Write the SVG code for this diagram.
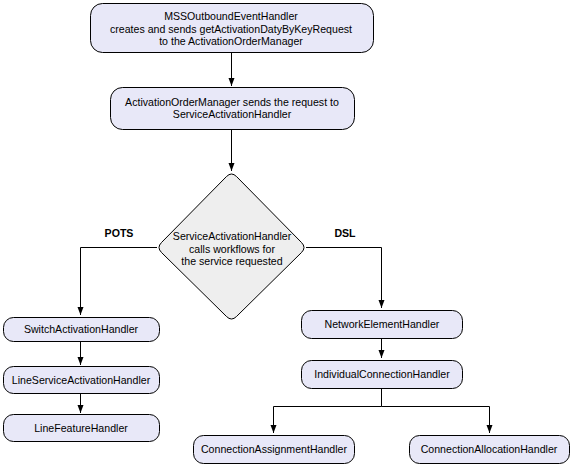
<svg xmlns="http://www.w3.org/2000/svg" width="573" height="466" viewBox="0 0 573 466">
<style>
.box{fill:#E8E8F8;stroke:#000;stroke-width:1}
.dia{fill:#EEEEEE;stroke:#000;stroke-width:1}
text{font-family:"Liberation Sans",Arial,sans-serif;font-size:10.6px;fill:#000;text-anchor:middle}
.lbl{font-weight:bold;font-size:10.6px}
.c{fill:none;stroke:#000;stroke-width:1;marker-end:url(#ah)}
.n{fill:none;stroke:#000;stroke-width:1}
</style>
<defs>
<marker id="ah" markerUnits="userSpaceOnUse" markerWidth="10" markerHeight="8" refX="9" refY="4" orient="auto" viewBox="0 0 10 8">
<path d="M1,1 L9,4 L1,7 Z" fill="#000"/>
</marker>
</defs>
<rect width="573" height="466" fill="#fff"/>
<g id="connectors">
<path class="c" d="M231.5,52 V86"/>
<path class="c" d="M231.5,129 V171"/>
<path class="c" d="M157,247.5 H80.5 V315"/>
<path class="c" d="M80.5,341 V365"/>
<path class="c" d="M80.5,393 V413"/>
<path class="c" d="M306,247.5 H381.5 V308"/>
<path class="c" d="M381.5,338 V358"/>
<path class="n" d="M381.5,388 V406.5"/>
<path class="c" d="M381.5,406.5 H273.5 V433"/>
<path class="c" d="M381.5,406.5 H489.5 V433"/>
</g>
<g id="n1">
<rect class="box" x="90.5" y="3.5" width="283" height="49" rx="12"/>
<text x="231" y="20">MSSOutboundEventHandler</text>
<text x="231" y="32.5">creates and sends getActivationDatyByKeyRequest</text>
<text x="231" y="45">to the ActivationOrderManager</text>
</g>
<g id="n2">
<rect class="box" x="110.5" y="87.5" width="244" height="42" rx="12"/>
<text x="232" y="106">ActivationOrderManager sends the request to</text>
<text x="232" y="118">ServiceActivationHandler</text>
</g>
<g id="n3">
<path class="dia" d="M226.5,176.5 Q231.5,171.5 236.5,176.5 L301.5,242.5 Q306.5,247.5 301.5,252.5 L236.5,316.5 Q231.5,321.5 226.5,316.5 L161.5,252.5 Q156.5,247.5 161.5,242.5 Z"/>
<text x="232" y="240">ServiceActivationHandler</text>
<text x="232" y="252.5">calls workflows for</text>
<text x="232" y="265">the service requested</text>
</g>
<g id="labels">
<text class="lbl" x="119" y="237">POTS</text>
<text class="lbl" x="345" y="237">DSL</text>
</g>
<g id="n4">
<rect class="box" x="3.5" y="317.5" width="156" height="24" rx="10"/>
<text x="81" y="333">SwitchActivationHandler</text>
</g>
<g id="n5">
<rect class="box" x="3.5" y="366.5" width="156" height="27" rx="10"/>
<text x="81" y="383.5">LineServiceActivationHandler</text>
</g>
<g id="n6">
<rect class="box" x="3.5" y="414.5" width="156" height="27" rx="10"/>
<text x="81" y="431.5">LineFeatureHandler</text>
</g>
<g id="n7">
<rect class="box" x="301.5" y="310.5" width="161" height="28" rx="10"/>
<text x="382" y="327.5">NetworkElementHandler</text>
</g>
<g id="n8">
<rect class="box" x="301.5" y="360.5" width="161" height="28" rx="10"/>
<text x="382" y="377.5">IndividualConnectionHandler</text>
</g>
<g id="n9">
<rect class="box" x="193.5" y="435.5" width="161" height="28" rx="10"/>
<text x="274" y="452.5">ConnectionAssignmentHandler</text>
</g>
<g id="n10">
<rect class="box" x="409.5" y="435.5" width="160" height="28" rx="10"/>
<text x="489" y="452.5">ConnectionAllocationHandler</text>
</g>
</svg>
